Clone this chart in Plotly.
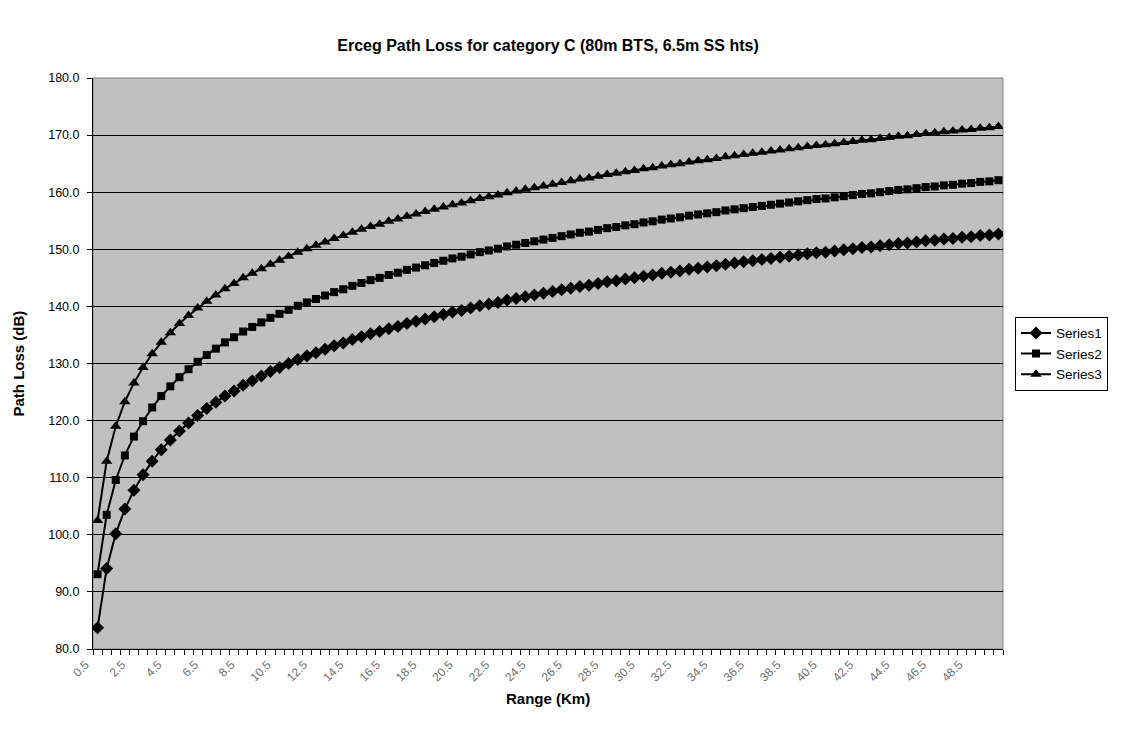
import plotly.graph_objects as go

categories = ["0.5","1.0","1.5","2.0","2.5","3.0","3.5","4.0","4.5","5.0",
              "5.5","6.0","6.5","7.0","7.5","8.0","8.5","9.0","9.5","10.0",
              "10.5","11.0","11.5","12.0","12.5","13.0","13.5","14.0","14.5","15.0",
              "15.5","16.0","16.5","17.0","17.5","18.0","18.5","19.0","19.5","20.0",
              "20.5","21.0","21.5","22.0","22.5","23.0","23.5","24.0","24.5","25.0",
              "25.5","26.0","26.5","27.0","27.5","28.0","28.5","29.0","29.5","30.0",
              "30.5","31.0","31.5","32.0","32.5","33.0","33.5","34.0","34.5","35.0",
              "35.5","36.0","36.5","37.0","37.5","38.0","38.5","39.0","39.5","40.0",
              "40.5","41.0","41.5","42.0","42.5","43.0","43.5","44.0","44.5","45.0",
              "45.5","46.0","46.5","47.0","47.5","48.0","48.5","49.0","49.5","50.0"]

series1 = [83.7, 94.1, 100.2, 104.5, 107.8, 110.5, 112.9, 114.9, 116.6, 118.2,
           119.6, 120.9, 122.1, 123.2, 124.3, 125.2, 126.2, 127.0, 127.8, 128.6,
           129.3, 130.0, 130.7, 131.3, 131.9, 132.5, 133.1, 133.6, 134.2, 134.7,
           135.2, 135.6, 136.1, 136.5, 137.0, 137.4, 137.8, 138.2, 138.6, 139.0,
           139.3, 139.7, 140.1, 140.4, 140.7, 141.1, 141.4, 141.7, 142.0, 142.3,
           142.6, 142.9, 143.2, 143.5, 143.7, 144.0, 144.3, 144.5, 144.8, 145.0,
           145.3, 145.5, 145.8, 146.0, 146.2, 146.5, 146.7, 146.9, 147.1, 147.4,
           147.6, 147.8, 148.0, 148.2, 148.4, 148.6, 148.8, 149.0, 149.2, 149.4,
           149.5, 149.7, 149.9, 150.1, 150.3, 150.4, 150.6, 150.8, 151.0, 151.1,
           151.3, 151.5, 151.6, 151.8, 151.9, 152.1, 152.2, 152.4, 152.5, 152.7]

series2 = [93.1, 103.5, 109.6, 113.9, 117.2, 119.9, 122.3, 124.3, 126.0, 127.6,
           129.0, 130.3, 131.5, 132.6, 133.7, 134.6, 135.6, 136.4, 137.2, 138.0,
           138.7, 139.4, 140.1, 140.7, 141.3, 141.9, 142.5, 143.0, 143.6, 144.1,
           144.6, 145.0, 145.5, 145.9, 146.4, 146.8, 147.2, 147.6, 148.0, 148.4,
           148.7, 149.1, 149.5, 149.8, 150.1, 150.5, 150.8, 151.1, 151.4, 151.7,
           152.0, 152.3, 152.6, 152.9, 153.1, 153.4, 153.7, 153.9, 154.2, 154.4,
           154.7, 154.9, 155.2, 155.4, 155.6, 155.9, 156.1, 156.3, 156.5, 156.8,
           157.0, 157.2, 157.4, 157.6, 157.8, 158.0, 158.2, 158.4, 158.6, 158.8,
           158.9, 159.1, 159.3, 159.5, 159.7, 159.8, 160.0, 160.2, 160.4, 160.5,
           160.7, 160.9, 161.0, 161.2, 161.3, 161.5, 161.6, 161.8, 161.9, 162.1]

series3 = [102.5, 112.9, 119.0, 123.3, 126.6, 129.3, 131.7, 133.7, 135.4, 137.0,
           138.4, 139.7, 140.9, 142.0, 143.1, 144.0, 145.0, 145.8, 146.6, 147.4,
           148.1, 148.8, 149.5, 150.1, 150.7, 151.3, 151.9, 152.4, 153.0, 153.5,
           154.0, 154.4, 154.9, 155.3, 155.8, 156.2, 156.6, 157.0, 157.4, 157.8,
           158.1, 158.5, 158.9, 159.2, 159.5, 159.9, 160.2, 160.5, 160.8, 161.1,
           161.4, 161.7, 162.0, 162.3, 162.5, 162.8, 163.1, 163.3, 163.6, 163.8,
           164.1, 164.3, 164.6, 164.8, 165.0, 165.3, 165.5, 165.7, 165.9, 166.2,
           166.4, 166.6, 166.8, 167.0, 167.2, 167.4, 167.6, 167.8, 168.0, 168.2,
           168.3, 168.5, 168.7, 168.9, 169.1, 169.2, 169.4, 169.6, 169.8, 169.9,
           170.1, 170.3, 170.4, 170.6, 170.7, 170.9, 171.0, 171.2, 171.3, 171.5]

series_names = ["Series1", "Series2", "Series3"]
markers = ["diamond", "square", "triangle-up"]
marker_sizes = [10, 8, 10]

idx = list(range(len(categories)))
label_idx = idx[::4]
label_text = [categories[i] for i in label_idx]

fig = go.Figure()
for name, vals, sym, ms in zip(series_names, [series1, series2, series3], markers, marker_sizes):
    fig.add_trace(go.Scatter(
        x=idx, y=vals, name=name, mode="lines+markers",
        line=dict(color="black", width=2),
        marker=dict(symbol=sym, size=ms, color="black"),
        customdata=categories,
    ))

FONT = "Liberation Sans, Arial, sans-serif"

# page body adds an 8px offset; figure coords = screen coords - 8
L, T, R, B = 85, 70, 129, 99
PW = 1124 - L - R
PH = 740 - T - B

fig.update_layout(
    width=1124, height=740,
    paper_bgcolor="white", plot_bgcolor="#C0C0C0",
    margin=dict(l=L, r=R, t=T, b=B, autoexpand=False),
    font=dict(family=FONT, color="black", size=12),
    title=dict(text="<b>Erceg Path Loss for category C (80m BTS, 6.5m SS hts)</b>",
               x=0.5, xref="paper", xanchor="center",
               y=1 - 37 / 740, yanchor="middle",
               font=dict(size=16, family=FONT)),
    showlegend=True,
    legend=dict(x=(1007 - L) / PW, xanchor="left", y=0.517, yanchor="middle",
                bordercolor="black", borderwidth=1, bgcolor="white",
                font=dict(size=13.5, family=FONT), tracegroupgap=0,
                itemwidth=30),
    annotations=[
        dict(text="<b>Range (Km)</b>", xref="paper", yref="paper",
             x=0.5, y=-(690 - (740 - B)) / PH, xanchor="center", yanchor="middle",
             showarrow=False, font=dict(size=15, family=FONT)),
        dict(text="<b>Path Loss (dB)</b>", xref="paper", yref="paper",
             x=(10 - L) / PW, y=0.5, xanchor="center", yanchor="middle",
             textangle=-90, showarrow=False, font=dict(size=15, family=FONT)),
    ],
)

fig.update_xaxes(
    range=[-0.5, len(categories) - 0.5],
    tickmode="array", tickvals=label_idx, ticktext=label_text,
    tickangle=-45, ticks="", tickfont=dict(size=12, color="#707070"),
    ticklabelshift=-12, ticklabelstandoff=3,
    showgrid=False, zeroline=False, automargin=False,
    showline=True, linecolor="black", linewidth=1, mirror=False,
    minor=dict(tickmode="array", tickvals=[i - 0.5 for i in idx] + [len(idx) - 0.5],
               ticks="outside", ticklen=5, tickcolor="black", showgrid=False),
)

fig.update_yaxes(
    range=[80, 180], dtick=10, tick0=80, tickformat=".1f",
    ticks="outside", ticklen=5, tickcolor="black",
    ticklabelstandoff=5,
    showgrid=True, gridcolor="black", gridwidth=1, zeroline=False,
    showline=True, linecolor="black", linewidth=1, automargin=False,
    tickfont=dict(size=12.5),
)

# gray plot-area border on top and right
fig.add_shape(type="rect", xref="paper", yref="paper", x0=0, y0=0, x1=1, y1=1,
              line=dict(color="#808080", width=1), layer="below")

fig.write_html("out.html")
